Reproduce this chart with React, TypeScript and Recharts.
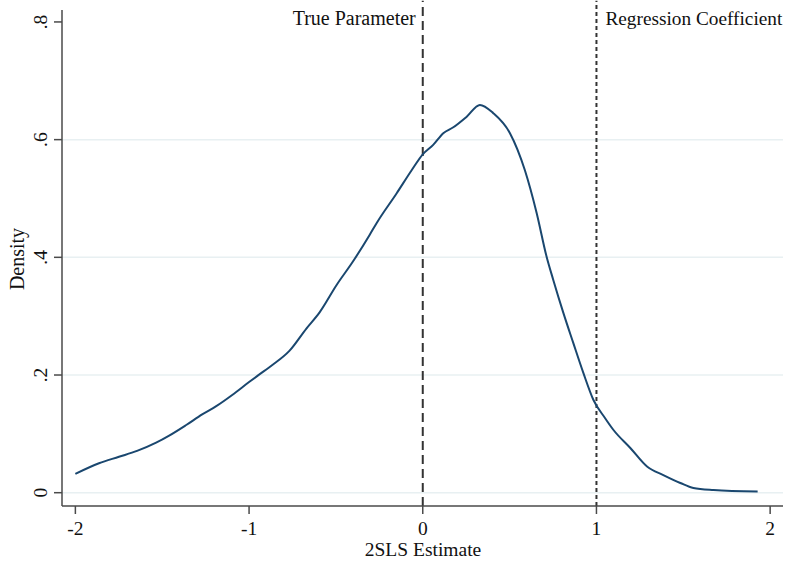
import React from 'react';
import { LineChart, Line, XAxis, YAxis, ReferenceLine } from 'recharts';

const estimates = [
  -2.0, -1.864, -1.749, -1.645, -1.535, -1.46, -1.362, -1.27, -1.189, -1.097,
  -1.0, -0.95, -0.866, -0.768, -0.67, -0.595, -0.496, -0.404, -0.306, -0.266,
  -0.15, -0.064, 0.0, 0.06, 0.118, 0.176, 0.253, 0.329, 0.406, 0.502,
  0.588, 0.656, 0.713, 0.751, 0.809, 0.866, 0.924, 0.982, 1.049, 1.097,
  1.195, 1.293, 1.385, 1.483, 1.558, 1.674, 1.928,
];
const densities = [
  0.032, 0.05, 0.061, 0.071, 0.085, 0.097, 0.115, 0.133, 0.147, 0.166,
  0.188, 0.199, 0.217, 0.241, 0.279, 0.306, 0.353, 0.392, 0.438, 0.458,
  0.509, 0.548, 0.575, 0.591, 0.611, 0.621, 0.639, 0.659, 0.645, 0.611,
  0.548, 0.475, 0.401, 0.362, 0.306, 0.255, 0.204, 0.158, 0.127, 0.107,
  0.076, 0.044, 0.03, 0.0165, 0.008, 0.0046, 0.002,
];

const xTicks = [-2, -1, 0, 1, 2];
const xTickLabels = ['-2', '-1', '0', '1', '2'];
const yTicks = [0, 0.2, 0.4, 0.6, 0.8];
const yTickLabels = ['0', '.2', '.4', '.6', '.8'];
const gridValues = [0, 0.2, 0.4, 0.6];
const refXs = [0, 1];
const refLabels = ['True Parameter', 'Regression Coefficient'];

const data = estimates.map((x, i) => ({ x, density: densities[i] }));

const FONT = '"Liberation Serif", "Times New Roman", serif';
const AXIS = '#4a4a4a';
const TEXT = '#111';

const YTick = (props: any) => {
  const { y, payload } = props;
  const idx = yTicks.indexOf(payload.value);
  const label = idx >= 0 ? yTickLabels[idx] : String(payload.value);
  return (
    <text
      transform={`translate(40,${y}) rotate(-90)`}
      textAnchor="middle"
      dominantBaseline="central"
      fontFamily={FONT}
      fontSize={19.5}
      fill={TEXT}
    >
      {label}
    </text>
  );
};

const XTick = (props: any) => {
  const { x, payload } = props;
  const idx = xTicks.indexOf(payload.value);
  const label = idx >= 0 ? xTickLabels[idx] : String(payload.value);
  return (
    <text x={x} y={535} textAnchor="middle" fontFamily={FONT} fontSize={19.5} fill={TEXT}>
      {label}
    </text>
  );
};

export default function App() {
  return (
    <div style={{ position: 'absolute', left: 0, top: 0, width: 798, height: 561, background: '#fff' }}>
      <LineChart width={798} height={561} data={data} margin={{ top: 10, right: 15, bottom: 0, left: 0 }}>
        <XAxis
          dataKey="x"
          type="number"
          domain={[-2.077, 2.074]}
          ticks={xTicks}
          tick={<XTick />}
          tickSize={8}
          height={55}
          stroke={AXIS}
          strokeWidth={1.5}
          tickLine={{ stroke: AXIS, strokeWidth: 1.5 }}
          axisLine={{ stroke: AXIS, strokeWidth: 1.5 }}
          allowDataOverflow
          label={{
            content: () => (
              <text x={423} y={556} textAnchor="middle" fontFamily={FONT} fontSize={19.5} fill={TEXT}>
                2SLS Estimate
              </text>
            ),
          }}
        />
        <YAxis
          type="number"
          domain={[-0.0226, 0.8203]}
          ticks={yTicks}
          tick={<YTick />}
          tickSize={8}
          width={62}
          stroke={AXIS}
          tickLine={{ stroke: AXIS, strokeWidth: 1.5 }}
          axisLine={{ stroke: AXIS, strokeWidth: 1.5 }}
          allowDataOverflow
          label={{
            content: () => (
              <text
                transform="translate(17,259) rotate(-90)"
                textAnchor="middle"
                dominantBaseline="central"
                fontFamily={FONT}
                fontSize={20}
                fill={TEXT}
              >
                Density
              </text>
            ),
          }}
        />
        {gridValues.map((v) => (
          <ReferenceLine key={'g' + v} y={v} stroke="#e8f0f2" strokeWidth={1.5} />
        ))}
        {refXs.map((v, i) => (
          <ReferenceLine
            key={'r' + v}
            segment={[
              { x: v, y: -0.0226 },
              { x: v, y: 0.836 },
            ]}
            ifOverflow="visible"
            stroke="#333"
            strokeWidth={2}
            strokeDasharray={i === 0 ? '9 5' : '4 3'}
            label={{
              content: (p: any) => {
                const vb = p.viewBox || {};
                const lx = i === 0 ? vb.x - 7 : vb.x + 9;
                return (
                  <text
                    x={lx}
                    y={18}
                    textAnchor={i === 0 ? 'end' : 'start'}
                    dominantBaseline="central"
                    fontFamily={FONT}
                    fontSize={i === 0 ? 20 : 19.3}
                    fill={TEXT}
                  >
                    {refLabels[i]}
                  </text>
                );
              },
            }}
          />
        ))}
        <Line
          type="monotone"
          dataKey="density"
          stroke="#1a476f"
          strokeWidth={2}
          dot={false}
          isAnimationActive={false}
        />
      </LineChart>
    </div>
  );
}
